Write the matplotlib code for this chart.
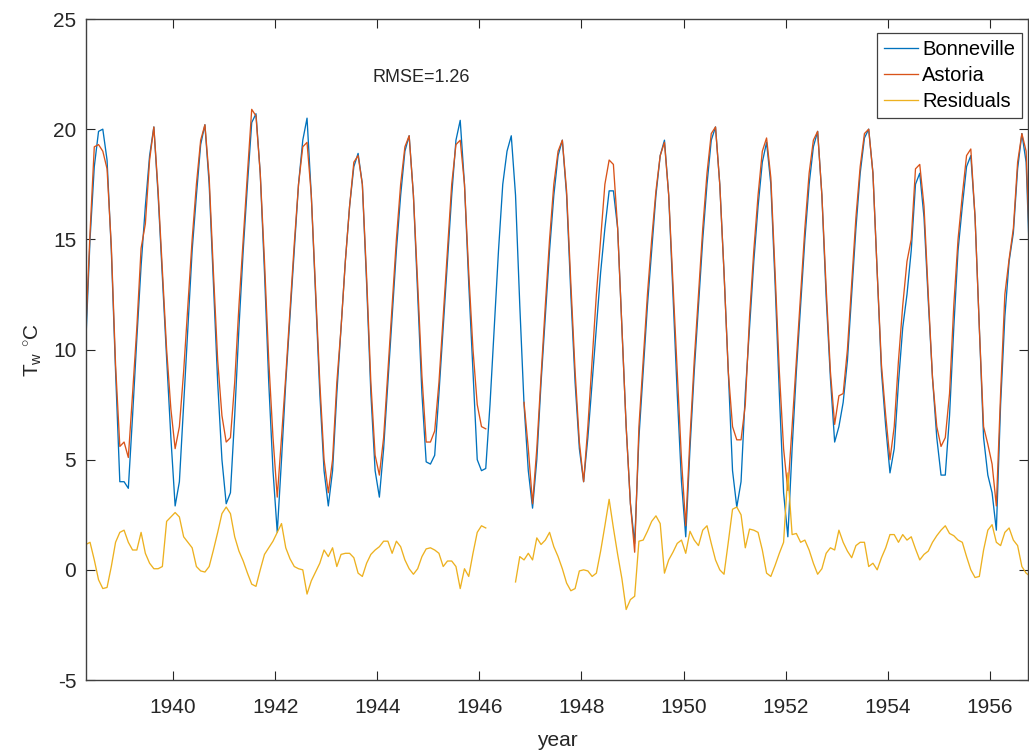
import numpy as np
import matplotlib
matplotlib.use("Agg")
import matplotlib.pyplot as plt

nan = np.nan

# monthly series, first value = April 1938
start_year, start_month = 1938, 4

bonneville = [
    10.3, 15.0, 18.3, 19.9, 20.0, 18.6, 14.5, 9.0, 4.0,                 # 1938
    4.0, 3.7, 7.0, 10.5, 13.8, 16.5, 18.8, 20.1, 17.0, 13.3, 9.6, 6.0,   # 1939
    2.9, 4.0, 7.5, 11.0, 14.5, 17.0, 19.3, 20.2, 17.5, 13.0, 8.5, 5.0,   # 1940
    3.0, 3.5, 7.0, 11.0, 14.5, 17.5, 20.3, 20.7, 18.0, 13.5, 8.5, 4.5,   # 1941
    1.7, 5.0, 8.5, 11.5, 14.5, 17.5, 19.5, 20.5, 17.0, 12.5, 8.0, 4.5,   # 1942
    2.9, 4.5, 8.0, 11.0, 14.0, 16.5, 18.3, 18.9, 17.5, 13.0, 8.0, 4.5,   # 1943
    3.3, 5.5, 8.5, 11.5, 14.5, 17.0, 19.0, 19.7, 17.0, 12.5, 8.0, 4.9,   # 1944
    4.8, 5.2, 8.0, 11.0, 14.0, 17.0, 19.5, 20.4, 17.5, 13.0, 9.0, 5.0,   # 1945
    4.5, 4.6, 7.5, 11.0, 14.5, 17.5, 19.0, 19.7, 17.0, 12.0, 7.5, 4.5,   # 1946
    2.8, 5.0, 8.5, 11.5, 14.5, 17.0, 18.8, 19.5, 17.0, 12.5, 8.5, 5.5,   # 1947
    4.0, 6.0, 8.5, 11.0, 13.5, 15.5, 17.2, 17.2, 15.5, 11.0, 6.5, 3.0,   # 1948
    1.2, 6.0, 9.0, 12.0, 14.5, 17.0, 18.8, 19.5, 17.0, 12.5, 8.0, 4.0,   # 1949
    1.5, 5.5, 9.0, 12.0, 15.0, 17.5, 19.5, 20.1, 17.5, 13.5, 9.0, 4.5,   # 1950
    2.85, 4.0, 8.0, 11.0, 14.0, 16.5, 18.5, 19.4, 17.5, 13.0, 8.0, 3.5,  # 1951
    1.5, 5.5, 9.0, 12.0, 15.0, 17.5, 19.2, 19.9, 17.0, 12.4, 8.7, 5.8,   # 1952
    6.5, 7.6, 9.5, 12.5, 15.5, 18.0, 19.6, 20.0, 18.0, 13.5, 9.0, 6.5,   # 1953
    4.4, 5.5, 8.5, 11.0, 12.5, 14.5, 17.5, 18.0, 16.0, 12.2, 8.7, 6.0,   # 1954
    4.3, 4.3, 7.0, 11.0, 14.5, 16.5, 18.3, 18.8, 16.0, 11.0, 6.0, 4.3,   # 1955
    3.5, 1.8, 7.5, 11.5, 14.0, 15.3, 18.2, 19.8, 18.5, 13.0,             # 1956
]

astoria = [
    10.8, 15.3, 19.2, 19.3, 19.0, 18.2, 14.7, 9.3, 5.6,                 # 1938
    5.8, 5.1, 8.0, 11.0, 14.6, 15.7, 18.6, 20.1, 17.2, 13.6, 10.0, 7.3,  # 1939
    5.5, 6.5, 9.0, 12.0, 15.0, 17.5, 19.5, 20.2, 17.8, 13.5, 9.5, 7.0,   # 1940
    5.8, 6.0, 8.5, 12.0, 15.0, 18.0, 20.9, 20.6, 18.0, 14.0, 9.5, 6.0,   # 1941
    3.3, 6.0, 8.8, 11.8, 14.8, 17.5, 19.2, 19.4, 17.0, 12.8, 8.5, 5.0,   # 1942
    3.5, 5.0, 8.5, 11.0, 14.0, 16.5, 18.5, 18.8, 17.5, 13.3, 8.5, 5.2,   # 1943
    4.3, 6.0, 9.0, 12.0, 15.0, 17.5, 19.2, 19.7, 17.0, 13.0, 8.8, 5.8,   # 1944
    5.8, 6.3, 8.5, 11.5, 14.5, 17.5, 19.3, 19.5, 17.5, 13.5, 10.0, 7.5,  # 1945
    6.5, 6.4, nan, nan, nan, nan, nan, nan, nan, nan, 7.6, 5.5,          # 1946
    3.0, 5.5, 8.8, 12.0, 15.0, 17.5, 19.0, 19.5, 17.2, 13.0, 9.0, 5.8,   # 1947
    4.0, 6.5, 9.5, 12.5, 15.0, 17.5, 18.6, 18.4, 15.5, 11.0, 6.5, 3.0,   # 1948
    0.8, 6.5, 9.5, 12.5, 15.0, 17.2, 18.8, 19.4, 17.0, 13.0, 9.0, 5.0,   # 1949
    2.0, 6.0, 9.5, 12.5, 15.5, 18.0, 19.8, 20.1, 17.5, 13.5, 9.0, 6.5,   # 1950
    5.9, 5.9, 7.5, 11.5, 14.5, 17.0, 19.0, 19.6, 17.8, 13.5, 9.0, 5.5,   # 1951
    3.6, 6.5, 9.5, 12.5, 15.5, 18.0, 19.5, 19.9, 17.0, 12.8, 9.0, 6.6,   # 1952
    7.9, 8.0, 10.0, 13.0, 16.0, 18.3, 19.8, 20.0, 18.0, 13.5, 9.3, 7.0,  # 1953
    5.0, 6.5, 9.5, 12.0, 14.0, 15.0, 18.2, 18.4, 16.5, 12.5, 8.7, 6.5,   # 1954
    5.6, 6.0, 8.0, 12.0, 15.0, 17.0, 18.8, 19.1, 16.0, 11.0, 6.5, 5.7,   # 1955
    4.8, 2.9, 8.0, 12.5, 14.1, 15.5, 18.5, 19.8, 19.0, 13.5,             # 1956
]

residuals = [
    1.15, 1.25, 0.45, -0.45, -0.85, -0.8, 0.15, 1.25, 1.7,                  # 1938
    1.8, 1.25, 0.9, 0.9, 1.7, 0.75, 0.3, 0.05, 0.05, 0.15, 2.2, 2.4,        # 1939
    2.6, 2.4, 1.5, 1.25, 1.0, 0.15, -0.05, -0.1, 0.15, 0.9, 1.7, 2.55,      # 1940
    2.85, 2.55, 1.5, 0.85, 0.4, -0.15, -0.65, -0.75, 0.0, 0.7, 1.0, 1.3,    # 1941
    1.7, 2.1, 1.0, 0.5, 0.15, 0.05, 0.0, -1.1, -0.5, -0.1, 0.3, 0.9,        # 1942
    0.6, 1.0, 0.15, 0.7, 0.75, 0.75, 0.55, -0.15, -0.3, 0.3, 0.7, 0.9,      # 1943
    1.05, 1.3, 1.3, 0.75, 1.3, 1.05, 0.45, 0.05, -0.2, 0.05, 0.6, 0.95,     # 1944
    1.0, 0.9, 0.75, 0.15, 0.4, 0.4, 0.15, -0.85, 0.05, -0.3, 0.75, 1.7,     # 1945
    2.0, 1.9, nan, nan, nan, nan, nan, nan, -0.55, 0.6, 0.45, 0.75,         # 1946
    0.45, 1.45, 1.15, 1.35, 1.7, 1.05, 0.6, 0.05, -0.6, -0.95, -0.85, -0.05,  # 1947
    0.0, -0.05, -0.3, -0.15, 0.85, 2.0, 3.2, 1.9, 0.7, -0.4, -1.8, -1.35,   # 1948
    -1.2, 1.3, 1.35, 1.75, 2.2, 2.45, 2.1, -0.15, 0.45, 0.8, 1.2, 1.35,     # 1949
    0.75, 1.75, 1.35, 1.1, 1.8, 2.0, 1.2, 0.45, 0.0, -0.2, 1.25, 2.75,      # 1950
    2.85, 2.5, 1.0, 1.85, 1.8, 1.7, 0.9, -0.15, -0.3, 0.2, 0.75, 1.25,      # 1951
    4.4, 1.6, 1.65, 1.25, 1.35, 0.9, 0.3, -0.2, 0.05, 0.75, 1.0, 0.9,       # 1952
    1.8, 1.25, 0.85, 0.55, 1.1, 1.25, 1.25, 0.15, 0.3, 0.0, 0.55, 1.0,      # 1953
    1.6, 1.6, 1.25, 1.6, 1.35, 1.5, 0.95, 0.45, 0.7, 0.85, 1.25, 1.55,      # 1954
    1.8, 2.0, 1.65, 1.55, 1.35, 1.25, 0.6, 0.0, -0.35, -0.3, 0.9, 1.8,      # 1955
    2.05, 1.25, 1.1, 1.7, 1.9, 1.35, 1.1, 0.15, -0.15, -0.3,                # 1956
]

labels = ["Bonneville", "Astoria", "Residuals"]
colors = ["#0072BD", "#D95319", "#EDB120"]
rmse_text = "RMSE=1.26"

# decimal year at mid-month
months = start_month - 1 + np.arange(len(bonneville))
t = start_year + (months + 0.5) / 12.0

plt.rcParams["font.family"] = ["Liberation Sans", "DejaVu Sans"]
plt.rcParams["mathtext.fontset"] = "custom"
plt.rcParams["mathtext.rm"] = "Liberation Sans"
plt.rcParams["mathtext.it"] = "Liberation Sans:italic"
plt.rcParams["axes.unicode_minus"] = False

axcol = "#262626"
fig = plt.figure(figsize=(10.29, 7.53), dpi=100)
ax = fig.add_axes([86 / 1029, 73 / 753, 942 / 1029, 661 / 753])

for y, lab, c in zip([bonneville, astoria, residuals], labels, colors):
    ax.plot(t, y, color=c, lw=0.95, label=lab)

ax.set_xlim(1938.296, 1956.745)
ax.set_ylim(-5, 25)
ax.set_xticks(np.arange(1940, 1957, 2))
ax.set_yticks(np.arange(-5, 26, 5))

ax.tick_params(direction="in", length=6.5, width=0.8, colors=axcol,
               labelsize=15, top=True, right=True)
ax.tick_params(axis="y", pad=7)
ax.tick_params(axis="x", pad=13)
for s in ax.spines.values():
    s.set_color("#404040")
    s.set_linewidth(1.0)

ax.set_xlabel("year", fontsize=15, color=axcol, labelpad=10)
ax.set_ylabel(r"T$_{\rm w}$ $^{\circ}$C", fontsize=15, color=axcol, labelpad=6)

ax.text(372 / 1029, 1 - 77 / 753, rmse_text, transform=fig.transFigure,
        fontsize=13, color=axcol, va="center", ha="left")

leg = ax.legend(loc="upper right", bbox_to_anchor=(1022 / 1029, 1 - 33 / 753),
                bbox_transform=fig.transFigure, borderaxespad=0, fontsize=14.5,
                handlelength=1.7, handletextpad=0.2, labelspacing=0.35,
                borderpad=0.35, fancybox=False, framealpha=1)
leg.get_frame().set_edgecolor("#404040")
leg.get_frame().set_linewidth(0.9)

fig.savefig("out.png", dpi=100)
